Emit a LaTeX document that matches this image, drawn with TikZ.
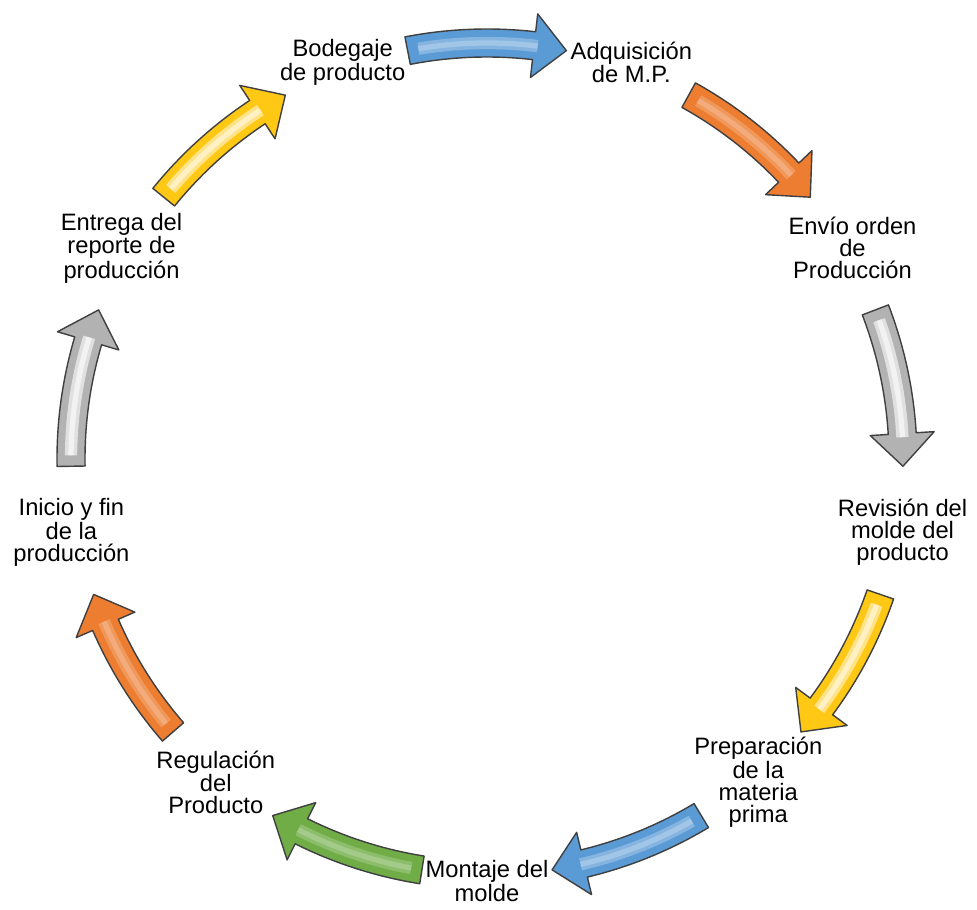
\documentclass[tikz,border=0pt]{standalone}
\usepackage{fontspec}
\setmainfont{Liberation Sans}
\definecolor{cblue}{RGB}{91,155,213}
\definecolor{corange}{RGB}{237,125,49}
\definecolor{cgray}{RGB}{178,178,178}
\definecolor{cyellow}{RGB}{255,200,20}
\definecolor{cgreen}{RGB}{112,173,71}
\begin{document}
\begin{tikzpicture}[x = 0.2mm, y = 0.2mm, line width = 0.8pt, lbl/.style = {align = center, inner sep = 0pt, font = \fontsize{13.5}{12.4}\selectfont}]
\useasboundingbox (0, 0) rectangle (977, 909);
\coordinate (c) at (487, 450);
\begin{scope}[shift = {(c)}]
\foreach \a/\col/\hl/\op in {100/cblue/white/0.25, 60/corange/white/0.2, 20/cgray/white/0.6, -20/cyellow/white/0.5, -60/cblue/white/0.25, -100/cgreen/white/0.2, -140/corange/white/0.2, -180/cgray/white/0.6, -220/cyellow/white/0.5}{
\filldraw[draw = black!75, fill = \col, line join = round] (\a + 1 : 430) arc[start angle = \a + 1, end angle = \a - 16.5, radius = 430] -- (\a - 16.5 : 448) -- (\a - 21 : 416) -- (\a - 16.5 : 384) -- (\a - 16.5 : 402) arc[start angle = \a - 16.5, end angle = \a + 1, radius = 402] -- cycle;
\draw[\hl, line width = 7pt, opacity = \op] (\a - 0.5 : 416) arc[start angle = \a - 0.5, end angle = \a - 17, radius = 416];
\draw[\hl, line width = 3pt, opacity = \op] (\a - 0.5 : 416) arc[start angle = \a - 0.5, end angle = \a - 17, radius = 416];
}
\foreach \a/\n/\t in {110/bod/{Bodegaje\\de producto}, 70/adq/{Adquisición\\de M.P.}, 30/env/{Envío orden\\de\\Producción}, -10/rev/{Revisión del\\molde del\\producto}, -50/pre/{Preparación\\de la\\materia\\prima}, -90/mon/{Montaje del\\molde}, -130/reg/{Regulación\\del\\Producto}, -170/ini/{Inicio y fin\\de la\\producción}, 150/ent/{Entrega del\\reporte de\\producción}}{
\node[lbl] (\n) at (\a : 422) {\t};
}
\end{scope}
\end{tikzpicture}
\end{document}
